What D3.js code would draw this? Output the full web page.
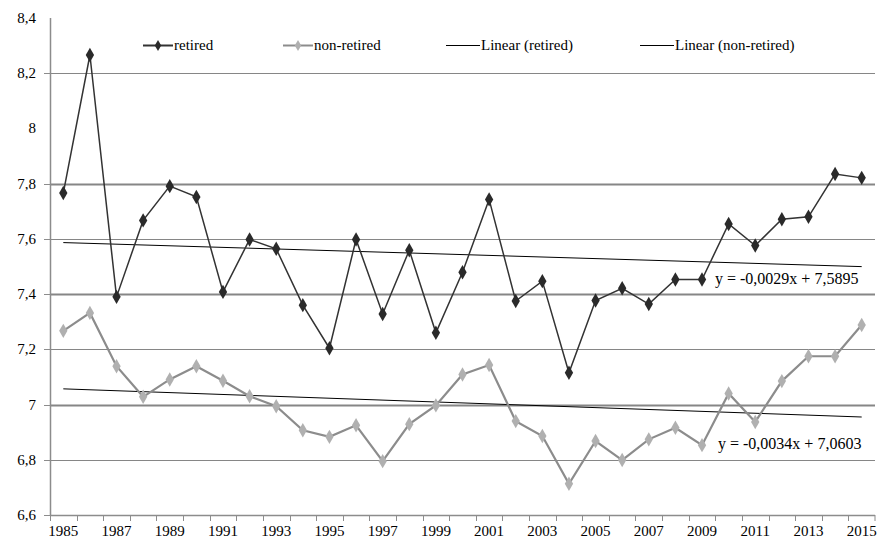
<!DOCTYPE html>
<html>
  <head>
    <meta charset="utf-8">
    <title>retired vs non-retired</title>
    <style>
      body { margin: 0; background: #fff; }
      svg text { font-family: "Liberation Serif", "Times New Roman", "DejaVu Serif", serif; fill: #000; }
      .grid { stroke: #868686; }
    </style>
    <script src="https://cdn.jsdelivr.net/npm/d3@7"></script>
  </head>
  <body>
  <script type="text/javascript">
    // data
    var years = d3.range(1985, 2016);
    var retired = [7.766, 8.266, 7.39, 7.667, 7.791, 7.752, 7.408, 7.598, 7.564, 7.36,
                   7.204, 7.598, 7.328, 7.559, 7.26, 7.479, 7.743, 7.375, 7.447, 7.115,
                   7.377, 7.421, 7.364, 7.453, 7.453, 7.654, 7.576, 7.671, 7.68, 7.835, 7.821];
    var nonRetired = [7.267, 7.332, 7.139, 7.028, 7.091, 7.139, 7.086, 7.03, 6.994, 6.907,
                      6.883, 6.925, 6.795, 6.929, 6.997, 7.109, 7.143, 6.94, 6.886, 6.713,
                      6.868, 6.799, 6.874, 6.916, 6.853, 7.04, 6.937, 7.085, 7.175, 7.175, 7.288];
    var yTicks = [6.6, 6.8, 7, 7.2, 7.4, 7.6, 7.8, 8, 8.2, 8.4];
    // the source only draws these gridlines (no line at 8 or 8,4)
    var gridVals = [6.8, 7, 7.2, 7.4, 7.6, 7.8, 8.2];
    var heavyGrid = [7, 7.4, 7.8];
    // trend lines y = a*x + b, x = 1..31
    var trendRetired = {a: -0.0029, b: 7.5895, label: "y = -0,0029x + 7,5895"};
    var trendNon = {a: -0.0034, b: 7.0603, label: "y = -0,0034x + 7,0603"};
    var legendItems = ["retired", "non-retired", "Linear (retired)", "Linear (non-retired)"];

    var width = 877, height = 540;
    var svg = d3.select("body").append("svg")
                .attr("width", width)
                .attr("height", height)
                .attr("font-family", "'Liberation Serif', 'Times New Roman', serif");

    var x = d3.scaleBand().domain(years).range([50, 875]);
    var cx = function(yr){ return x(yr) + x.bandwidth() / 2; };
    var y = d3.scaleLinear().domain([6.6, 8.4]).range([515, 18]);
    var fmt = function(v){ return String(+v.toFixed(1)).replace(".", ","); };
    var ry = function(v){ return Math.round(y(v)) + 0.5; };

    // horizontal gridlines
    svg.selectAll(".grid")
       .data(gridVals)
       .enter().append("line")
         .attr("class", "grid")
         .attr("x1", 50).attr("x2", 875)
         .attr("y1", ry).attr("y2", ry)
         .attr("stroke-width", function(d){ return heavyGrid.indexOf(d) >= 0 ? 2 : 1; });

    // y axis
    svg.append("line")
       .attr("x1", 50.5).attr("x2", 50.5).attr("y1", 18).attr("y2", 516)
       .attr("stroke", "#8c8c8c").attr("stroke-width", 1.5);
    svg.selectAll(".ytick")
       .data(gridVals.concat([6.6]))
       .enter().append("line")
         .attr("x1", 44).attr("x2", 50)
         .attr("y1", ry).attr("y2", ry)
         .attr("stroke", "#8c8c8c");
    svg.selectAll(".ylab")
       .data(yTicks)
       .enter().append("text")
         .attr("x", 36)
         .attr("y", function(d){ return y(d) + 5; })
         .attr("text-anchor", "end")
         .attr("font-size", "15px")
         .text(fmt);

    // x axis
    svg.append("line")
       .attr("x1", 50).attr("x2", 875).attr("y1", 515.5).attr("y2", 515.5)
       .attr("stroke", "#8c8c8c").attr("stroke-width", 1.5);
    svg.selectAll(".xtick")
       .data(years.concat([2016]))
       .enter().append("line")
         .attr("x1", function(d){ return d === 2016 ? 875 : Math.round(x(d)) + 0.5; })
         .attr("x2", function(d){ return d === 2016 ? 875 : Math.round(x(d)) + 0.5; })
         .attr("y1", 515).attr("y2", 521)
         .attr("stroke", "#8c8c8c");
    svg.selectAll(".xlab")
       .data(years.filter(function(d){ return (d - 1985) % 2 === 0; }))
       .enter().append("text")
         .attr("x", cx)
         .attr("y", 536)
         .attr("text-anchor", "middle")
         .attr("font-size", "15px")
         .text(function(d){ return d; });

    // trend lines
    function trendPts(t){
      return [[cx(1985), y(t.a * 1 + t.b)], [cx(2015), y(t.a * 31 + t.b)]];
    }
    [trendRetired, trendNon].forEach(function(t){
      svg.append("path")
         .attr("d", d3.line()(trendPts(t)))
         .attr("stroke", "#000").attr("stroke-width", 1).attr("fill", "none");
    });

    // series
    var diamond = d3.symbol().type(d3.symbolDiamond).size(60);
    function drawSeries(vals, lineCol, dotCol, lw){
      var line = d3.line()
                   .x(function(d, i){ return cx(years[i]); })
                   .y(function(d){ return y(d); });
      svg.append("path")
         .datum(vals)
         .attr("d", line)
         .attr("fill", "none")
         .attr("stroke", lineCol)
         .attr("stroke-width", lw);
      svg.append("g").selectAll("path")
         .data(vals)
         .enter().append("path")
           .attr("d", diamond)
           .attr("transform", function(d, i){ return "translate(" + cx(years[i]) + "," + y(d) + ")"; })
           .attr("fill", dotCol);
    }
    drawSeries(nonRetired, "#8c8c8c", "#b0b0b0", 2.2);
    drawSeries(retired, "#333333", "#2a2a2a", 1.5);

    // equation labels
    svg.append("text").attr("x", 715).attr("y", 284)
       .attr("font-size", "16px").text(trendRetired.label);
    svg.append("text").attr("x", 718).attr("y", 449)
       .attr("font-size", "16px").text(trendNon.label);

    // legend
    var legX = [143, 283, 446, 640];
    var legCols = ["#333333", "#8c8c8c", "#000", "#000"];
    var leg = svg.append("g").selectAll("g")
                 .data(legendItems)
                 .enter().append("g")
                   .attr("transform", function(d, i){ return "translate(" + legX[i] + ",45)"; });
    leg.append("line")
       .attr("x1", 0).attr("x2", function(d, i){ return i < 2 ? 30 : 34; })
       .attr("y1", 0.5).attr("y2", 0.5)
       .attr("stroke", function(d, i){ return legCols[i]; })
       .attr("stroke-width", function(d, i){ return i < 2 ? 2 : 1; });
    leg.filter(function(d, i){ return i < 2; })
       .append("path")
         .attr("d", d3.symbol().type(d3.symbolDiamond).size(36))
         .attr("transform", "translate(15,0.5)")
         .attr("fill", function(d){ return d === "retired" ? "#2a2a2a" : "#b0b0b0"; });
    leg.append("text")
       .attr("x", function(d, i){ return i < 2 ? 31 : 35; })
       .attr("y", 5)
       .attr("font-size", "15px")
       .text(function(d){ return d; });
  </script>
  </body>
</html>
